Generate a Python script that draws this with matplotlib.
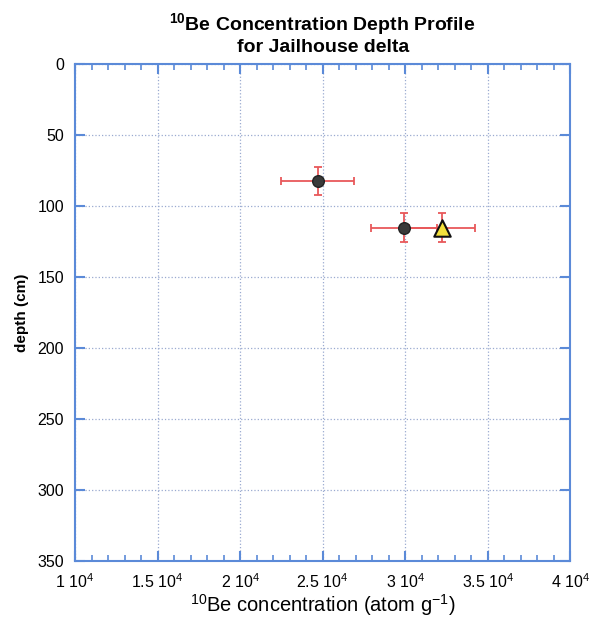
import matplotlib.pyplot as plt
from matplotlib.ticker import MultipleLocator

plt.rcParams['font.family'] = ['Liberation Sans', 'DejaVu Sans']
plt.rcParams['mathtext.fontset'] = 'custom'
plt.rcParams['mathtext.rm'] = 'Liberation Sans'
plt.rcParams['mathtext.bf'] = 'Liberation Sans:bold'

# 10Be concentration (atom/g) vs depth (cm)
conc = [2.47e4, 2.99e4]
conc_err = [0.22e4, 0.20e4]
depth = [82, 115]
depth_err = [10, 10]

tri_conc = [3.22e4]
tri_conc_err = [0.20e4]
tri_depth = [115]
tri_depth_err = [10]

x_ticks = [1e4, 1.5e4, 2e4, 2.5e4, 3e4, 3.5e4, 4e4]
x_labels = ['1 10$^{4}$', '1.5 10$^{4}$', '2 10$^{4}$', '2.5 10$^{4}$',
            '3 10$^{4}$', '3.5 10$^{4}$', '4 10$^{4}$']
y_ticks = [0, 50, 100, 150, 200, 250, 300, 350]

axis_blue = '#5b8ad8'
err_red = '#e8585a'

fig = plt.figure(figsize=(5.91, 6.20), dpi=100)
ax = fig.add_axes([0.127, 0.095, 0.838, 0.801])

ax.errorbar(conc, depth, xerr=conc_err, yerr=depth_err, fmt='none',
            ecolor=err_red, elinewidth=1.3, capsize=3, capthick=1.3, zorder=3)
ax.errorbar(tri_conc, tri_depth, xerr=tri_conc_err, yerr=tri_depth_err, fmt='none',
            ecolor=err_red, elinewidth=1.3, capsize=3, capthick=1.3, zorder=3)
ax.scatter(conc, depth, s=70, color='#3a3a3a', edgecolor='#222222', zorder=4)
ax.scatter(tri_conc, tri_depth, s=140, marker='^', color='#f4e13c',
           edgecolor='#111111', linewidth=1.5, zorder=4)

ax.set_xlim(1e4, 4e4)
ax.set_ylim(350, 0)
ax.set_xticks(x_ticks)
ax.set_xticklabels(x_labels)
ax.xaxis.set_minor_locator(MultipleLocator(1000))
ax.set_yticks(y_ticks)

ax.grid(True, which='major', color='#9aaad0', linestyle=':', linewidth=0.9)
for s in ax.spines.values():
    s.set_color(axis_blue)
    s.set_linewidth(1.5)
ax.tick_params(axis='both', which='major', direction='in', color=axis_blue,
               width=1.5, length=7, top=True, right=True, labelsize=11.5, pad=8)
ax.tick_params(axis='x', which='minor', direction='in', color=axis_blue,
               width=1.2, length=4, top=True, bottom=True)

ax.set_xlabel('$^{10}$Be concentration (atom g$^{-1}$)', fontsize=14.5, labelpad=1)
ax.set_ylabel('depth (cm)', fontsize=11, fontweight='bold', labelpad=6)
ax.set_title('$\\mathbf{^{10}}$Be Concentration Depth Profile\nfor Jailhouse delta',
             fontsize=14, fontweight='bold', pad=9, linespacing=1.15)

fig.savefig('out.png', dpi=100)
